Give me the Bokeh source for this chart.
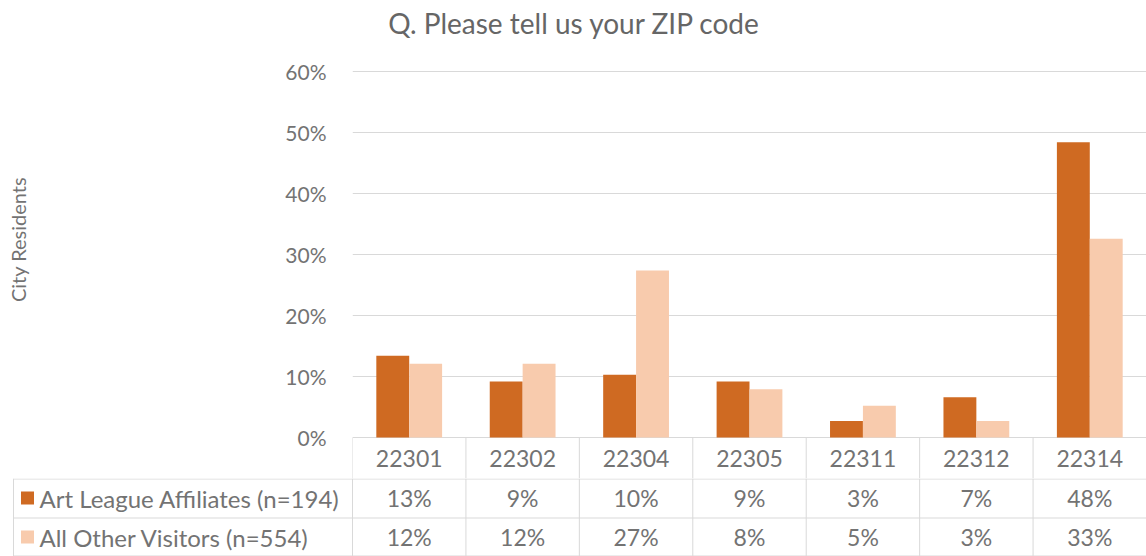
from bokeh.plotting import figure
from bokeh.models import Range1d, FixedTicker, ColumnDataSource
from bokeh.layouts import column
from bokeh.embed import file_html
from bokeh.resources import INLINE
from bokeh.core.properties import value

# ---------------- data ----------------
title_text = "Q. Please tell us your ZIP code"
y_label = "City Residents"
zip_codes = ["22301", "22302", "22304", "22305", "22311", "22312", "22314"]
series_names = ["Art League Affiliates (n=194)", "All Other Visitors (n=554)"]
affiliates = [13.4, 9.2, 10.3, 9.2, 2.7, 6.6, 48.4]
others = [12.1, 12.1, 27.4, 7.9, 5.2, 2.7, 32.6]
y_ticks = [0, 10, 20, 30, 40, 50, 60]

# ---------------- style ----------------
FONT = "Lato"
TXT = "#737373"
GRID = "#d9d9d9"
DARK = "#CF6A22"
LIGHT = "#F8CBAD"

W = 1146
n = len(zip_codes)
centers = [i + 0.5 for i in range(n)]
bar_w = 0.29
table_vals = [[f"{round(v)}%" for v in affiliates], [f"{round(v)}%" for v in others]]

# pixel geometry of the chart frame (0% at y=437 px, 6.1 px per percent)
px_per_pct = 372 / 61.0
y_bottom = -41 / px_per_pct          # frame extends down through the ZIP header row
y_top = 437 / px_per_pct             # frame extends up to the top (title area)
px_per_cat = (W - 352) / n

# ---------------- chart figure ----------------
p = figure(width=W, height=478, x_range=Range1d(0, n), y_range=Range1d(y_bottom, y_top),
           output_backend="svg", toolbar_location=None,
           min_border_left=352, min_border_right=0, min_border_top=0, min_border_bottom=0)
p.outline_line_color = None

src = ColumnDataSource(dict(
    x1=[c - bar_w / 2 for c in centers], x2=[c + bar_w / 2 for c in centers],
    a=affiliates, o=others))
p.vbar(x="x1", top="a", width=bar_w, bottom=0, source=src, fill_color=DARK, line_color=None)
p.vbar(x="x2", top="o", width=bar_w, bottom=0, source=src, fill_color=LIGHT, line_color=None)

p.xaxis.visible = False
p.xgrid.visible = False
p.ygrid.grid_line_color = GRID
p.ygrid.grid_line_width = 1
p.ygrid.ticker = FixedTicker(ticks=y_ticks)

p.yaxis.ticker = FixedTicker(ticks=y_ticks)
p.yaxis.bounds = (0, 62.5)
p.yaxis.major_label_overrides = {t: f"{t}%" for t in y_ticks}
p.yaxis.axis_line_color = None
p.yaxis.major_tick_line_color = None
p.yaxis.minor_tick_line_color = None
p.yaxis.major_label_standoff = 20
p.yaxis.major_label_text_font = FONT
p.yaxis.major_label_text_font_size = "21px"
p.yaxis.major_label_text_color = TXT
p.yaxis.axis_label = y_label
p.yaxis.axis_label_standoff = 252
p.yaxis.axis_label_text_font = FONT
p.yaxis.axis_label_text_font_size = "20px"
p.yaxis.axis_label_text_font_style = "normal"
p.yaxis.axis_label_text_color = TXT

# chart title
p.text(x=[(574 - 352) / px_per_cat], y=[(437 - 22) / px_per_pct], text=[title_text],
       text_align="center", text_baseline="middle", text_font=value(FONT),
       text_font_size="28px", text_color="#666666")

# ZIP header row (category labels + cell dividers) on the chart's own x scale
vx = list(range(n + 1))
p.segment(x0=vx, x1=vx, y0=[0] * len(vx), y1=[y_bottom] * len(vx), line_color=GRID, line_width=1)
p.text(x=centers, y=[-21 / px_per_pct] * n, text=zip_codes, text_align="center",
       text_baseline="middle", text_font=value(FONT), text_font_size="23px", text_color=TXT)

# ---------------- table figure ----------------
x_left = -352 / px_per_cat
t = figure(width=W, height=78, x_range=Range1d(x_left, n), y_range=Range1d(-78, 0),
           output_backend="svg", toolbar_location=None,
           min_border_left=0, min_border_right=0, min_border_top=0, min_border_bottom=0)
t.axis.visible = False
t.grid.visible = False
t.outline_line_color = None
for fig in (p, t):
    if hasattr(fig, "frame_align"):
        fig.frame_align = False

tab_left = (13 - 352) / px_per_cat
row_y = [-19.5, -58.5]
t.segment(x0=[tab_left] * 3, x1=[n] * 3, y0=[-0.5, -39.5, -77.5], y1=[-0.5, -39.5, -77.5],
          line_color=GRID, line_width=1)
tvx = [tab_left] + vx
t.segment(x0=tvx, x1=tvx, y0=[0] * len(tvx), y1=[-78] * len(tvx), line_color=GRID, line_width=1)

for r, (name, col, vals) in enumerate(zip(series_names, [DARK, LIGHT], table_vals)):
    t.rect(x=[(27 - 352) / px_per_cat], y=[row_y[r]], width=13, height=13,
           width_units="screen", height_units="screen", fill_color=col, line_color=None)
    t.text(x=[(39 - 352) / px_per_cat], y=[row_y[r]], text=[name], text_align="left",
           text_baseline="middle", text_font=value(FONT), text_font_size="24px",
           text_color=TXT)
    t.text(x=centers, y=[row_y[r]] * n, text=vals, text_align="center",
           text_baseline="middle", text_font=value(FONT), text_font_size="23px",
           text_color=TXT)

layout = column(p, t, spacing=0)
open("out.html", "w").write(file_html(layout, INLINE))
